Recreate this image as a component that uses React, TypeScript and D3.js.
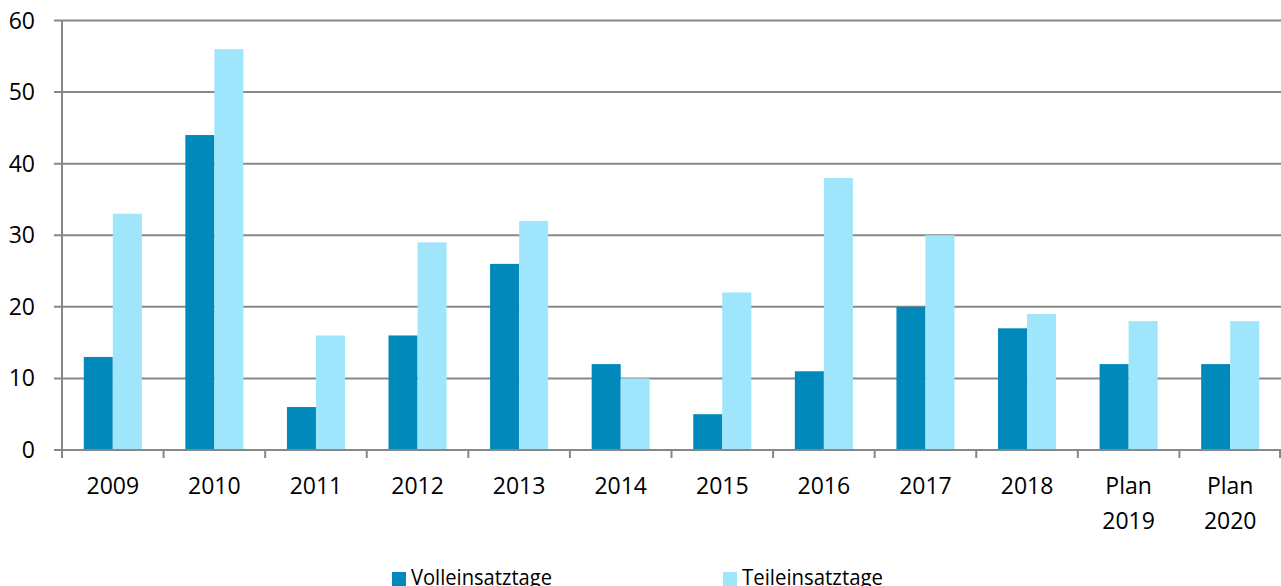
import React, { useRef, useEffect } from 'react';
import * as d3 from 'd3';

const categories = ['2009', '2010', '2011', '2012', '2013', '2014', '2015', '2016', '2017', '2018', 'Plan 2019', 'Plan 2020'];
const seriesNames = ['Volleinsatztage', 'Teileinsatztage'];
const volleinsatztage = [13, 44, 6, 16, 26, 12, 5, 11, 20, 17, 12, 12];
const teileinsatztage = [33, 56, 16, 29, 32, 10, 22, 38, 30, 19, 18, 18];
const yTicks = [0, 10, 20, 30, 40, 50, 60];
const colors = ['#0089ba', '#9fe5fc'];

function App() {
  const d3Container = useRef<HTMLDivElement>(null);

  const width = 1281;
  const height = 586;
  const plot = { left: 62, right: 1281, top: 20.5, bottom: 450 };
  const font = '"Open Sans", sans-serif';

  useEffect(() => {
    if (!d3Container.current) return;
    d3.select(d3Container.current).selectAll('*').remove();

    const svg = d3
      .select(d3Container.current)
      .append('svg')
      .attr('width', width)
      .attr('height', height)
      .style('display', 'block');

    svg.append('rect').attr('width', width).attr('height', height).attr('fill', '#fff');

    const x = d3.scaleBand().domain(categories).range([plot.left, plot.right]).padding(0);
    const x1 = d3.scaleBand().domain(seriesNames).range([0, x.bandwidth()]).paddingInner(0).paddingOuter(0.75);
    const y = d3.scaleLinear().domain([0, 60]).range([plot.bottom, plot.top]);

    // gridlines
    svg
      .append('g')
      .selectAll('line')
      .data(yTicks)
      .join('line')
      .attr('x1', plot.left - 8)
      .attr('x2', plot.right)
      .attr('y1', (d) => y(d))
      .attr('y2', (d) => y(d))
      .attr('stroke', '#878787')
      .attr('stroke-width', 2);

    // y labels
    svg
      .append('g')
      .selectAll('text')
      .data(yTicks)
      .join('text')
      .attr('x', 35)
      .attr('y', (d) => y(d))
      .attr('dy', '0.35em')
      .attr('text-anchor', 'end')
      .attr('font-family', font)
      .attr('font-size', 23)
      .attr('fill', '#000')
      .text((d) => d);

    // bars
    const data = categories.map((c, i) => ({ c, values: [volleinsatztage[i], teileinsatztage[i]] }));
    svg
      .append('g')
      .selectAll('g')
      .data(data)
      .join('g')
      .attr('transform', (d) => `translate(${x(d.c)},0)`)
      .selectAll('rect')
      .data((d) => d.values.map((v, k) => ({ name: seriesNames[k], v, k })))
      .join('rect')
      .attr('x', (d) => x1(d.name)!)
      .attr('width', x1.bandwidth())
      .attr('y', (d) => y(d.v))
      .attr('height', (d) => y(0) - y(d.v))
      .attr('fill', (d) => colors[d.k]);

    // axes lines
    svg
      .append('line')
      .attr('x1', plot.left)
      .attr('x2', plot.left)
      .attr('y1', plot.top)
      .attr('y2', plot.bottom + 8)
      .attr('stroke', '#878787')
      .attr('stroke-width', 2);
    svg
      .append('line')
      .attr('x1', plot.left - 8)
      .attr('x2', plot.right)
      .attr('y1', plot.bottom)
      .attr('y2', plot.bottom)
      .attr('stroke', '#878787')
      .attr('stroke-width', 2);

    // x ticks at category boundaries
    const bounds = categories.map((c) => x(c)!).concat([plot.right - 1]);
    svg
      .append('g')
      .selectAll('line')
      .data(bounds.slice(1))
      .join('line')
      .attr('x1', (d) => d)
      .attr('x2', (d) => d)
      .attr('y1', plot.bottom)
      .attr('y2', plot.bottom + 8)
      .attr('stroke', '#878787')
      .attr('stroke-width', 2);

    // x labels
    const xl = svg
      .append('g')
      .selectAll('text')
      .data(categories)
      .join('text')
      .attr('x', (d) => x(d)! + x.bandwidth() / 2)
      .attr('y', 494)
      .attr('text-anchor', 'middle')
      .attr('font-family', font)
      .attr('font-size', 23)
      .attr('fill', '#000');
    xl.selectAll('tspan')
      .data((d) => d.split(' '))
      .join('tspan')
      .attr('x', function () {
        return (this.parentNode as SVGTextElement).getAttribute('x');
      })
      .attr('dy', (d, i) => (i === 0 ? 0 : 35))
      .text((d) => d);

    // legend
    const legendX = [392, 723];
    const legend = svg
      .append('g')
      .selectAll('g')
      .data(seriesNames)
      .join('g')
      .attr('transform', (d, i) => `translate(${legendX[i]},0)`);
    legend
      .append('rect')
      .attr('x', 0)
      .attr('y', 572)
      .attr('width', 14)
      .attr('height', 14)
      .attr('fill', (d, i) => colors[i]);
    legend
      .append('text')
      .attr('x', 19)
      .attr('y', 585)
      .attr('font-family', font)
      .attr('font-size', 22.5)
      .attr('textLength', 141)
      .attr('lengthAdjust', 'spacingAndGlyphs')
      .attr('fill', '#000')
      .text((d) => d);
  }, []);

  return <div ref={d3Container} style={{ position: 'absolute', left: 0, top: 0 }} />;
}

export default App;
